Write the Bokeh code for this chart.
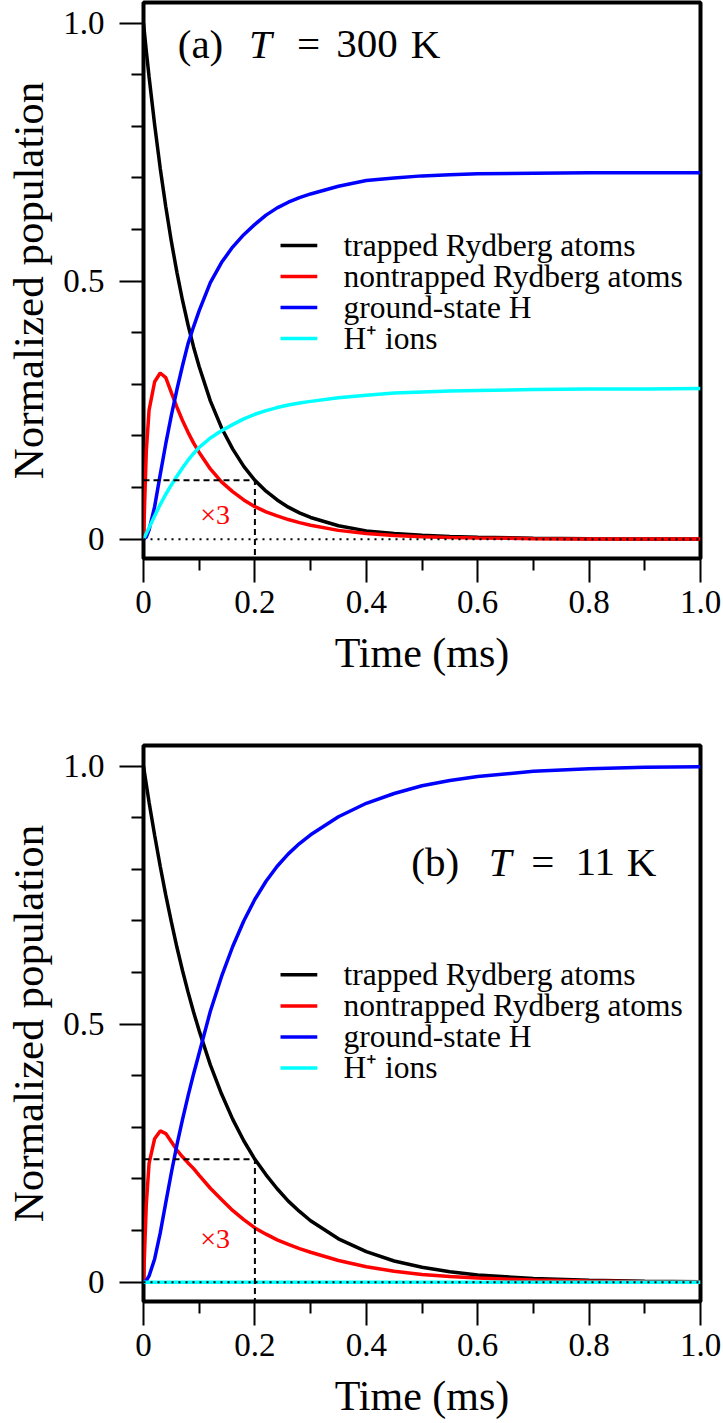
from bokeh.plotting import figure
from bokeh.layouts import column
from bokeh.models import (Range1d, FixedTicker, CustomJSTickFormatter, Span, Label)
from bokeh.core.properties import value
from bokeh.embed import file_html
from bokeh.resources import INLINE

# time grid (ms)
time_ms = [0, 0.005, 0.01, 0.02, 0.03, 0.04, 0.05, 0.06, 0.07, 0.08, 0.09, 0.10,
           0.12, 0.14, 0.16, 0.18, 0.20, 0.22, 0.24, 0.26, 0.28, 0.30,
           0.35, 0.40, 0.45, 0.50, 0.55, 0.60, 0.70, 0.80, 0.90, 1.00]

# (a) T = 300 K
trapped_300K = [1.000, 0.946, 0.896, 0.803, 0.719, 0.644, 0.577, 0.517, 0.463, 0.415, 0.372, 0.334,
                0.268, 0.216, 0.175, 0.141, 0.114, 0.093, 0.076, 0.062, 0.051, 0.042,
                0.026, 0.016, 0.011, 0.0075, 0.0052, 0.0036, 0.0018, 0.0009, 0.0005, 0.0003]
nontrapped_300K_x3 = [0.0, 0.17, 0.25, 0.305, 0.322, 0.313, 0.284, 0.256, 0.230, 0.207, 0.186, 0.168,
                      0.136, 0.111, 0.092, 0.076, 0.063, 0.053, 0.045, 0.038, 0.032, 0.027,
                      0.017, 0.011, 0.0072, 0.0048, 0.0032, 0.0022, 0.0010, 0.0005, 0.0002, 0.0001]
ground_300K = [0.0, 0.004, 0.018, 0.063, 0.125, 0.185, 0.240, 0.290, 0.336, 0.379, 0.412, 0.443,
               0.497, 0.536, 0.566, 0.590, 0.610, 0.628, 0.642, 0.653, 0.662, 0.669,
               0.684, 0.695, 0.700, 0.704, 0.706, 0.708, 0.709, 0.710, 0.710, 0.710]
ions_300K = [0.0, 0.011, 0.022, 0.045, 0.067, 0.087, 0.105, 0.122, 0.138, 0.153, 0.166, 0.178,
             0.196, 0.210, 0.222, 0.233, 0.242, 0.249, 0.255, 0.260, 0.264, 0.267,
             0.274, 0.279, 0.283, 0.285, 0.287, 0.288, 0.290, 0.291, 0.291, 0.292]

# (b) T = 11 K
trapped_11K = [1.000, 0.965, 0.930, 0.866, 0.806, 0.750, 0.698, 0.649, 0.604, 0.562, 0.523, 0.487,
               0.421, 0.365, 0.316, 0.274, 0.238, 0.208, 0.181, 0.157, 0.137, 0.119,
               0.084, 0.059, 0.041, 0.029, 0.020, 0.014, 0.007, 0.0035, 0.0017, 0.0008]
nontrapped_11K_x3 = [0.0, 0.15, 0.23, 0.278, 0.293, 0.288, 0.272, 0.256, 0.243, 0.231, 0.220, 0.207,
                     0.182, 0.160, 0.139, 0.121, 0.105, 0.093, 0.082, 0.073, 0.065, 0.058,
                     0.042, 0.030, 0.021, 0.015, 0.011, 0.008, 0.004, 0.002, 0.001, 0.0005]
ground_11K = [0.0, 0.003, 0.012, 0.045, 0.095, 0.154, 0.212, 0.266, 0.315, 0.361, 0.404, 0.444,
              0.525, 0.592, 0.650, 0.700, 0.742, 0.777, 0.806, 0.830, 0.850, 0.867,
              0.902, 0.928, 0.947, 0.962, 0.972, 0.980, 0.990, 0.995, 0.998, 0.999]
ions_11K = [0.0, 0.0, 0.0, 0.0, 0.0, 0.0, 0.0, 0.0, 0.0, 0.0, 0.0, 0.0,
            0.0, 0.0, 0.0, 0.0, 0.0, 0.0, 0.0, 0.0, 0.0, 0.0,
            0.0, 0.0, 0.0, 0.0, 0.0, 0.0, 0.0, 0.0, 0.0, 0.0]

series_labels = ["trapped Rydberg atoms", "nontrapped Rydberg atoms", "ground-state H", "H\u207a ions"]
series_colors = ["#000000", "#ff0000", "#0000ff", "#00ffff"]

x_major = [0, 0.2, 0.4, 0.6, 0.8, 1.0]
x_minor = [0.1, 0.3, 0.5, 0.7, 0.9]
y_major = [0, 0.5, 1.0]
y_minor = [0.1, 0.2, 0.3, 0.4, 0.6, 0.7, 0.8, 0.9]

mark_time = 0.2          # guide lines drop from the trapped curve at this time
scale_note = "\u00d73"   # nontrapped curve is drawn magnified

FONT = "Liberation Serif"
Y_LO, Y_HI = -0.0375, 1.04

# key placement inside the frame (data units)
KEY_X0, KEY_X1, KEY_TEXT_X = 0.246, 0.312, 0.359
KEY_ROW_STEP = 0.0601


def build_panel(series, title_parts, title_y, note_y, key_top, fig_height, bottom_border):
    p = figure(width=723, height=fig_height,
               x_range=Range1d(0, 1.0), y_range=Range1d(Y_LO, Y_HI),
               output_backend="svg", toolbar_location=None,
               min_border_left=143, min_border_right=23,
               min_border_top=2, min_border_bottom=bottom_border)
    p.grid.visible = False
    p.background_fill_color = "white"
    p.border_fill_color = "white"
    p.outline_line_color = "black"
    p.outline_line_width = 4
    p.outline_line_alpha = 1.0

    for values, color in zip(series, series_colors):
        p.line(time_ms, values, line_color=color, line_width=3.5)

    # dashed guide from the trapped population at mark_time
    level = series[0][time_ms.index(mark_time)]
    p.line([0, mark_time, mark_time], [level, level, Y_LO],
           line_color="black", line_width=2, line_dash="6 4")

    p.add_layout(Span(location=0, dimension="width", line_color="black",
                      line_width=2, line_dash="2 5"))

    # axes
    for ax, major, minor in ((p.xaxis, x_major, x_minor), (p.yaxis, y_major, y_minor)):
        ax.ticker = FixedTicker(ticks=major, minor_ticks=minor)
        ax.formatter = CustomJSTickFormatter(code="return tick == 0 ? '0' : tick.toFixed(1);")
        ax.axis_line_color = None
        ax.major_tick_in = 0
        ax.major_tick_out = 24
        ax.minor_tick_in = 0
        ax.minor_tick_out = 12
        ax.major_tick_line_width = 2
        ax.minor_tick_line_width = 2
        ax.major_tick_line_color = "black"
        ax.minor_tick_line_color = "black"
        ax.major_label_text_font = FONT
        ax.major_label_text_font_size = "33px"
        ax.major_label_text_color = "black"
        ax.axis_label_text_font = FONT
        ax.axis_label_text_font_style = "normal"
        ax.axis_label_text_color = "black"
    p.yaxis.major_label_standoff = 15
    p.xaxis.major_label_standoff = 8
    p.xaxis.axis_label = "Time (ms)"
    p.xaxis.axis_label_text_font_size = "42px"
    p.xaxis.axis_label_standoff = 14
    p.yaxis.axis_label = "Normalized population"
    p.yaxis.axis_label_text_font_size = "43px"
    p.yaxis.axis_label_standoff = 8

    # panel title, piece by piece so the temperature symbol can be italic
    for txt, xpos, style in title_parts:
        p.add_layout(Label(x=xpos, y=title_y, text=txt, text_font=FONT, text_font_size="41px",
                           text_font_style=style, text_color="black",
                           text_baseline="alphabetic", text_align="center"))

    p.add_layout(Label(x=0.102, y=note_y, text=scale_note, text_font=FONT,
                       text_font_size="28px", text_color="#ff0000",
                       text_baseline="alphabetic", text_align="left"))

    # key: short line samples with their labels
    rows = [key_top - i * KEY_ROW_STEP for i in range(len(series_labels))]
    p.segment(x0=[KEY_X0] * len(rows), y0=rows, x1=[KEY_X1] * len(rows), y1=rows,
              line_color=series_colors, line_width=3.5)
    p.text(x=[KEY_TEXT_X] * len(rows), y=rows, text=series_labels,
           text_font=value(FONT), text_font_size=value("31.5px"),
           text_color="black", text_baseline="middle", text_align="left")
    return p


panel_a = build_panel([trapped_300K, nontrapped_300K_x3, ground_300K, ions_300K],
                      [("(a)", 0.1023, "normal"), ("T", 0.210, "italic"), ("=", 0.2962, "normal"),
                       ("300", 0.4013, "normal"), ("K", 0.5063, "normal")],
                      title_y=0.960, note_y=0.048, key_top=0.5692,
                      fig_height=743, bottom_border=185)
panel_b = build_panel([trapped_11K, nontrapped_11K_x3, ground_11K, ions_11K],
                      [("(b)", 0.5237, "normal"), ("T", 0.6405, "italic"), ("=", 0.7171, "normal"),
                       ("11", 0.8109, "normal"), ("K", 0.8941, "normal")],
                      title_y=0.815, note_y=0.084, key_top=0.5955,
                      fig_height=680, bottom_border=122)

page = column(panel_a, panel_b)
open("out.html", "w").write(file_html(page, INLINE))
